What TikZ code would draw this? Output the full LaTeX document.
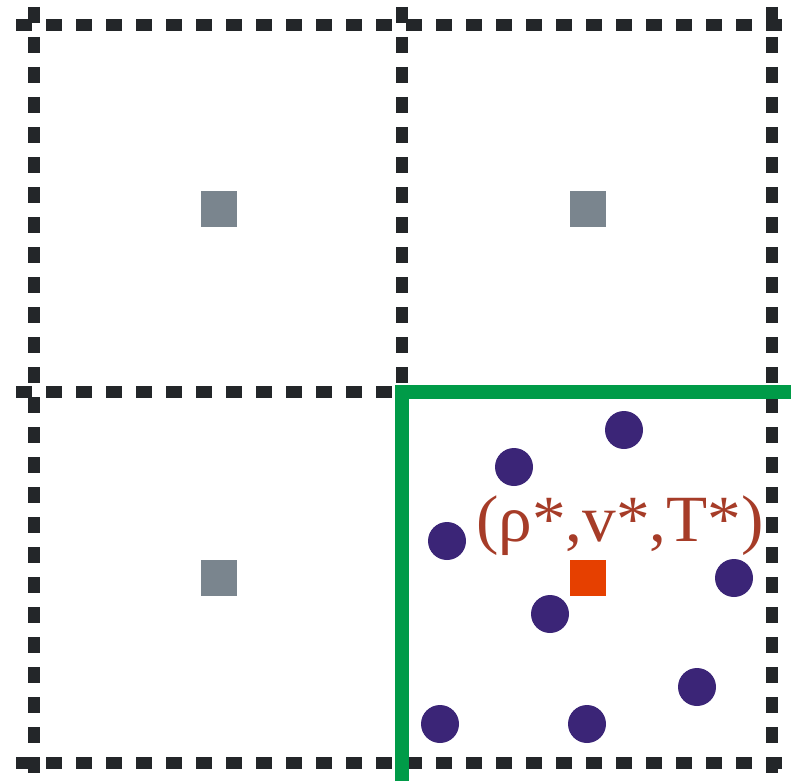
\documentclass[tikz,border=0pt]{standalone}
\usepackage{fontspec}
\setmainfont{Liberation Serif}
\begin{document}
\begin{tikzpicture}[x=1pt,y=-1pt,
  gridline/.style={line width=12pt,draw={rgb,255:red,35;green,38;blue,41},dash pattern=on 16pt off 14pt},
  greenline/.style={line width=14pt,draw={rgb,255:red,0;green,155;blue,72}},
  cellbox/.style={fill={rgb,255:red,122;green,133;blue,142},minimum size=36pt,inner sep=0pt,outer sep=0pt},
  centerbox/.style={fill={rgb,255:red,230;green,64;blue,0},minimum size=36pt,inner sep=0pt,outer sep=0pt},
  particle/.style={circle,fill={rgb,255:red,59;green,37;blue,119},minimum size=38pt,inner sep=0pt}
]
\useasboundingbox (0,0) rectangle (791,781);
% dashed grid
\draw[gridline] (16,25) -- (791,25);
\draw[gridline] (16,392) -- (791,392);
\draw[gridline] (16,763) -- (791,763);
\draw[gridline] (34,7) -- (34,781);
\draw[gridline] (402,7) -- (402,781);
\draw[gridline] (772,7) -- (772,781);
% green boundary
\draw[greenline] (402,781) -- (402,392) -- (791,392);
% cell centres
\node[cellbox] (c1) at (219,209) {};
\node[cellbox] (c2) at (588,209) {};
\node[cellbox] (c3) at (219,578) {};
\node[centerbox] (c4) at (588,578) {};
% particles
\node[particle] (p1) at (624,430) {};
\node[particle] (p2) at (514,467) {};
\node[particle] (p3) at (447,541) {};
\node[particle] (p4) at (734,578) {};
\node[particle] (p5) at (550,614) {};
\node[particle] (p6) at (697,687) {};
\node[particle] (p7) at (440,724) {};
\node[particle] (p8) at (587,724) {};
% label
\node[text={rgb,255:red,166;green,60;blue,40},font=\fontsize{66}{66}\selectfont,inner sep=0pt,xscale=1.02] (lab) at (620,526) {(ρ*,v*,T*)};
\end{tikzpicture}
\end{document}
